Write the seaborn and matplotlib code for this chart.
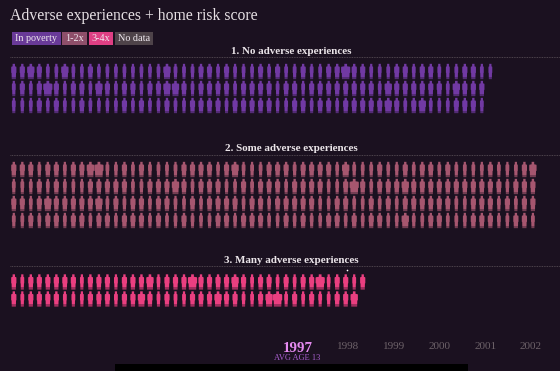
"""Adverse experiences + home risk score: rows of little people, one per child."""

import matplotlib.pyplot as plt
import numpy as np
import pandas as pd
import seaborn as sns
from matplotlib.patches import Rectangle
from matplotlib.path import Path

# one letter per person: s slim, m medium, w wide, x very wide
group1_rows = [
    "mmwmsswssm" "ssssssssws" "ssmmsmsssm" "sm" "ssmssm" "mxmmsssmms" "mmsssmmss",
    "smsmxmsmms" "wmsmmsmmww" "msmmmmsmmm" "ms" "mmsmmm" "mmmmmswmmm" "mmmswmmm",
    "sssmsmssms" "sssmsmssms" "smmmmsmmmm" "ms" "smmsmmsmmm" "mmwmsmwsss" "mmms",
]
group2_rows = [
    "mmmsmmsmmw" "xssmsmssss" "mmmmsmwsss" "mm" "msmmmmswss" "smssmsmmsm" "ssssmsssmw",
    "sssmsmsssm" "mmmmssmmmw" "msmmmssmsm" "mm" "smmmmssmxm" "smmmwmmmmm" "mmmmmmsmmm",
    "mmsmwmmmmm" "wsmsmmsmms" "smsmmmmsmm" "sm" "mmmmssmmss" "msmsmmmmmm" "ssmmmsmsmm",
    "ssmsmmsmms" "mmsmmmsmss" "msssmmsmmm" "ss" "msmssmmsms" "mmsswssmms" "ssmmmssmms",
]
group3_rows = [
    "msmmmmmmsm" "mmsmmmwsmm" "mxmmmmwmsm" "ms" "msmmxsmmsm",
    "msmmmmsssm" "mmsmmwmsms" "smmmwmmssm" "wx" "smsmssmmw",
]

group_names = ["1. No adverse experiences", "2. Some adverse experiences", "3. Many adverse experiences"]
group_rows = [group1_rows, group2_rows, group3_rows]
group_colors = ["#7139a3", "#a6566f", "#ea3f80"]
group_top = [71.5, 169.5, 282.0]
group_header = [51.0, 148.5, 260.5]
group_rule = [56.5, 154.5, 265.5]

legend_labels = ["In poverty", "1-2x", "3-4x", "No data"]
legend_colors = ["#693a98", "#8e4f6a", "#df3f84", "#4e4349"]
legend_left = [12, 62, 88.5, 115]
legend_right = [60.5, 87, 113, 153]

years = ["1998", "1999", "2000", "2001", "2002"]
year_x = [348.5, 394, 440, 485.5, 531]

BG = "#1b1120"
STEP = 8.51
ROW_GAP = 17.0


def person(half_width):
    # small head, square shoulders, straight legs a bit narrower than the body
    w = half_width
    head = 0.12 + 0.1 * w
    verts = [
        (-head, 1.0), (head, 1.0), (head, 0.68), (w * 0.95, 0.62), (w, 0.5), (w, -0.15),
        (w * 0.85, -0.2), (w * 0.8, -1.0), (-w * 0.8, -1.0), (-w * 0.85, -0.2),
        (-w, -0.15), (-w, 0.5), (-w * 0.95, 0.62), (-head, 0.68), (-head, 1.0),
    ]
    codes = [Path.MOVETO] + [Path.LINETO] * 13 + [Path.CLOSEPOLY]
    return Path(np.array(verts), codes)


builds = {"s": person(0.25), "m": person(0.34), "w": person(0.48), "x": person(0.6)}

records = []
for name, rows, top in zip(group_names, group_rows, group_top):
    for r, row in enumerate(rows):
        for c, build in enumerate(row):
            records.append({"group": name, "x": 13.8 + c * STEP, "y": top + r * ROW_GAP, "build": build})
people = pd.DataFrame(records)

sns.set_theme(style="dark", rc={"figure.facecolor": BG, "axes.facecolor": BG})
plt.rcParams["font.family"] = ["Liberation Serif", "DejaVu Serif"]

fig = plt.figure(figsize=(5.6, 3.71), dpi=100)
ax = fig.add_axes([0, 0, 1, 1])

sns.scatterplot(data=people, x="x", y="y", hue="group", palette=dict(zip(group_names, group_colors)),
                style="build", markers=builds, s=122, linewidth=0, legend=False, ax=ax)

# legs fade out into the background
for rows, top in zip(group_rows, group_top):
    for r in range(len(rows)):
        y = top + r * ROW_GAP
        ax.add_patch(Rectangle((0, y + 5), 560, 3.5, color=BG, alpha=0.35, lw=0, zorder=3))

ax.set_xlim(0, 560)
ax.set_ylim(371, 0)
ax.axis("off")

ax.text(10.5, 16.5, "Adverse experiences + home risk score", color="#e6e0e4", fontsize=11.3, va="center")

for label, col, left, right in zip(legend_labels, legend_colors, legend_left, legend_right):
    ax.add_patch(Rectangle((left, 32), right - left, 12.5, color=col, lw=0))
    ax.text((left + right) / 2, 38.5, label, color="#efe8ee", fontsize=7.3, ha="center", va="center")

for name, head_y, rule_y in zip(group_names, group_header, group_rule):
    ax.text(291.5, head_y, name, color="#ece6ea", fontsize=7.9, fontweight="bold", ha="center", va="center")
    ax.plot([10, 560], [rule_y, rule_y], color="#5f555c", lw=0.6, ls=(0, (1, 1)))

ax.text(297.5, 348, "1997", color="#e58af0", fontsize=10.8, fontweight="bold", ha="center", va="center")
ax.text(297.5, 358.5, "AVG AGE 13", color="#a95fcf", fontsize=6, ha="center", va="center")
for year, x in zip(years, year_x):
    ax.text(x, 346.5, year, color="#6d6269", fontsize=8, ha="center", va="center")

ax.add_patch(Rectangle((115, 364), 353, 7, color="black", lw=0))
ax.plot([346.5], [270], marker="o", ms=1.2, color="white", mew=0)

fig.savefig("out.png", dpi=100, facecolor=BG)
